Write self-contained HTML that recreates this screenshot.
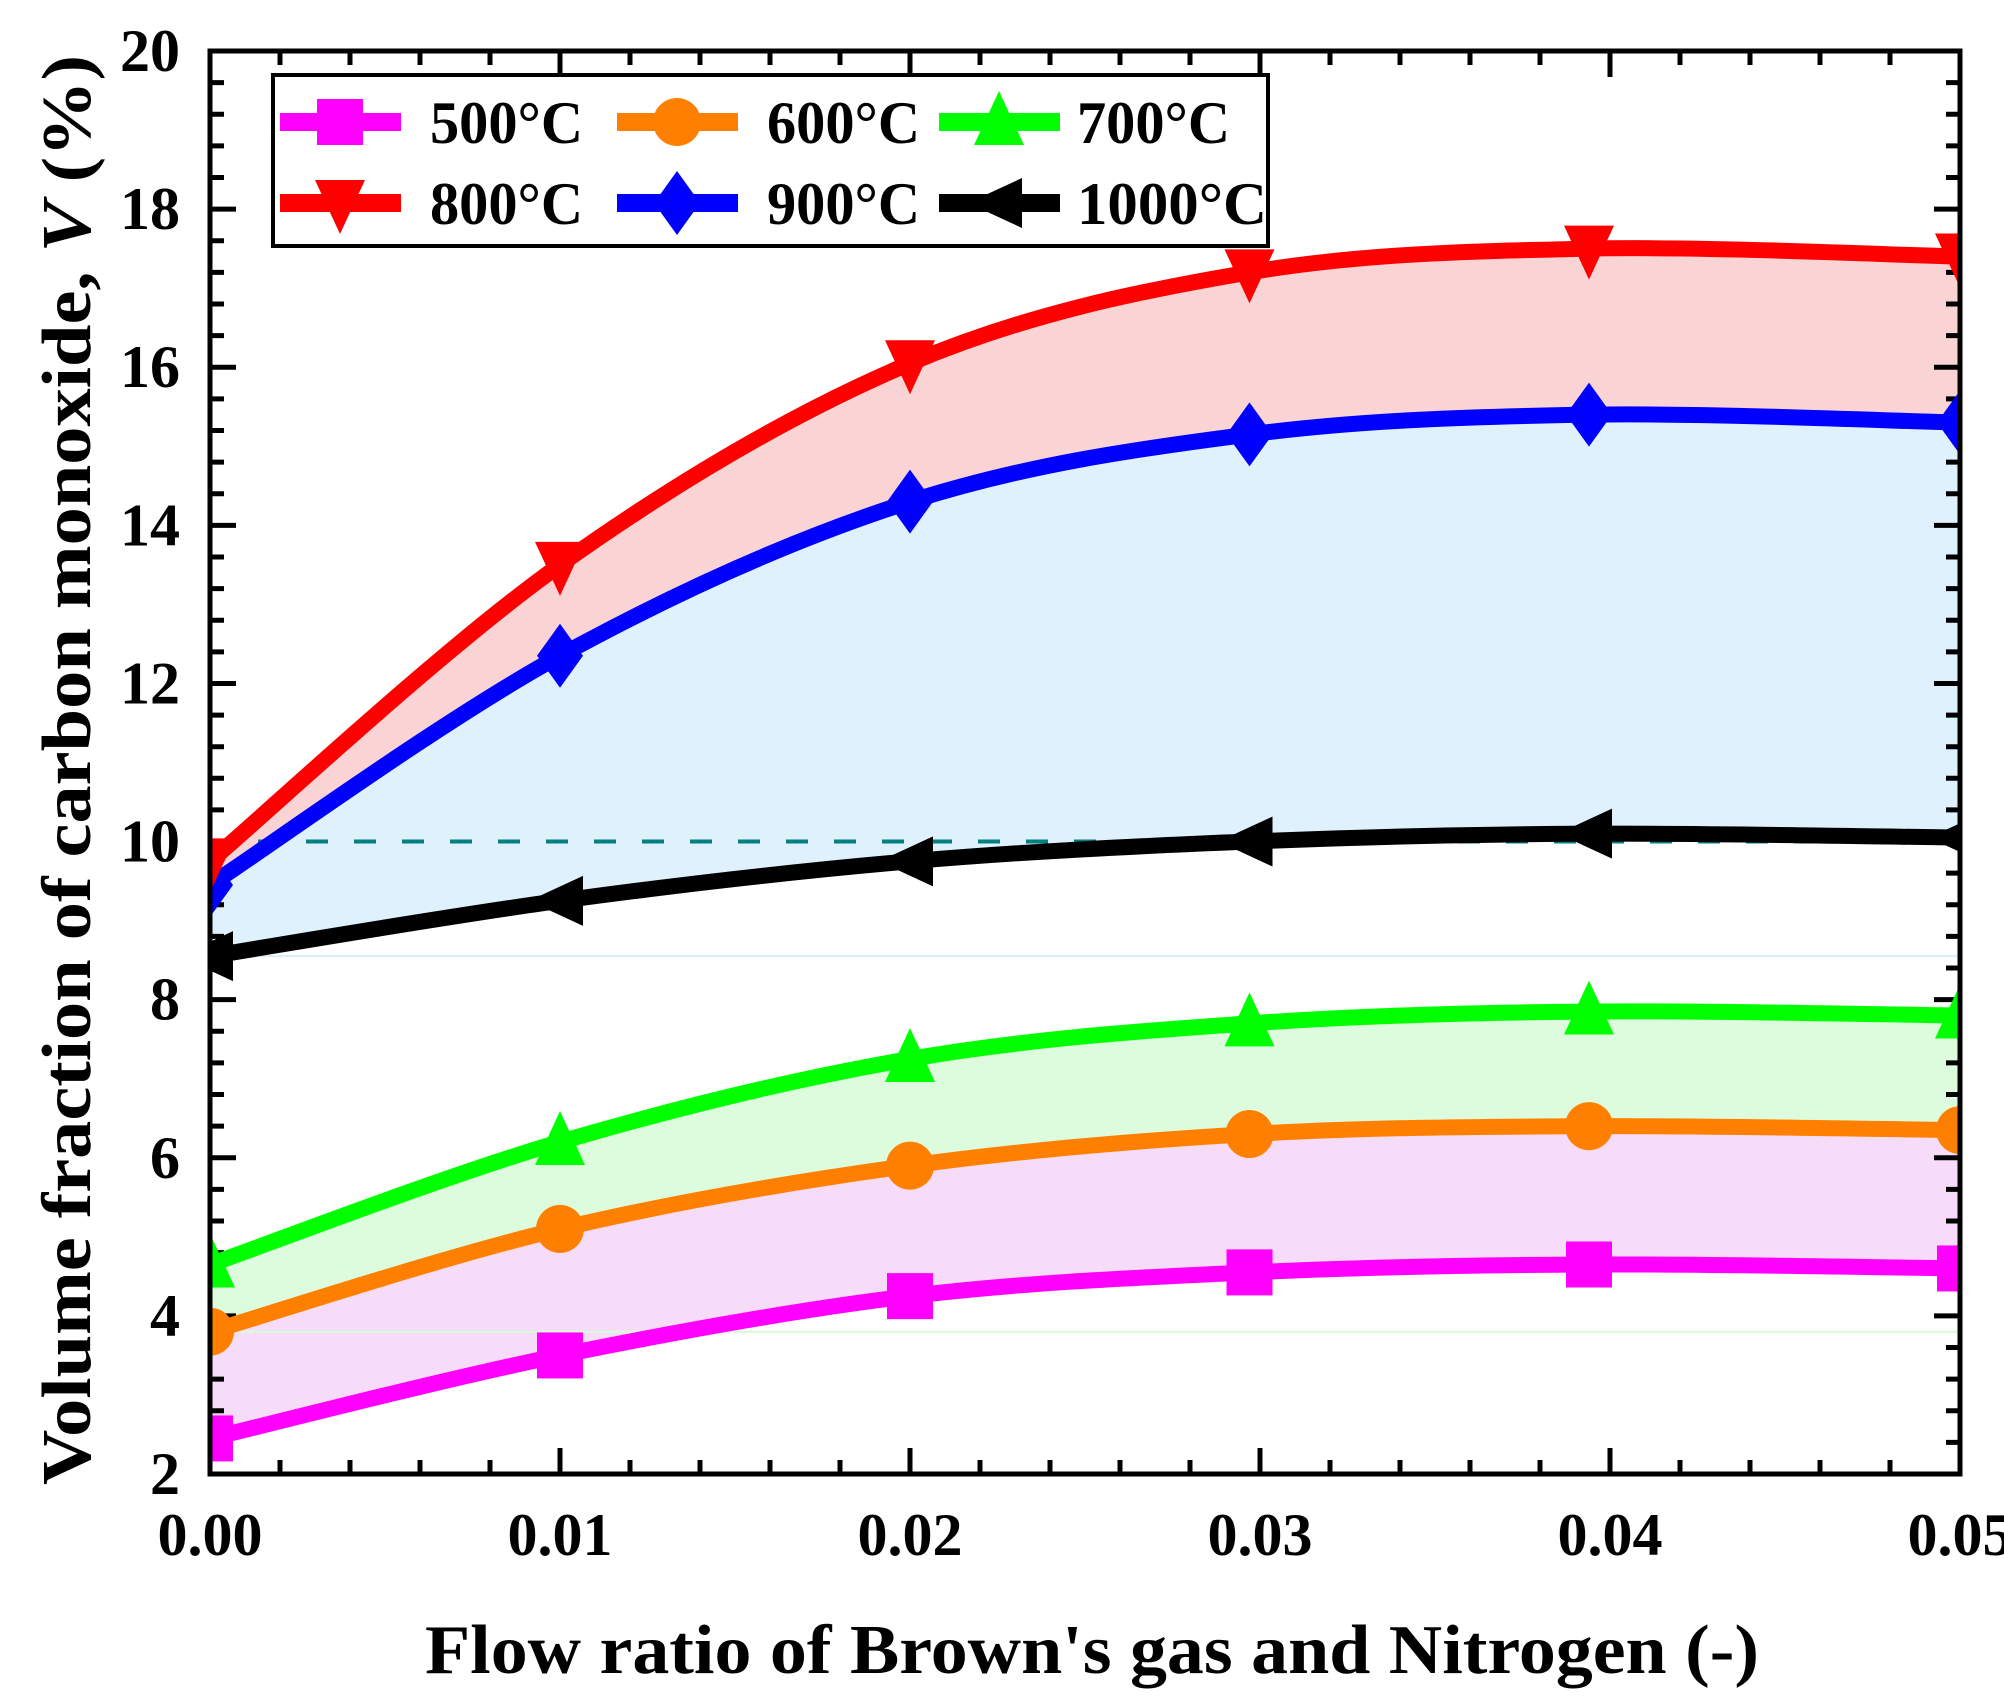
<!DOCTYPE html>
<html><head><meta charset="utf-8"><style>
html,body{margin:0;padding:0;background:#fff;}
svg{display:block;}
text{font-family:"Liberation Serif",serif;font-weight:bold;fill:#000;}
</style></head><body>
<svg id="s" width="2004" height="1702" viewBox="0 0 2004 1702" xmlns="http://www.w3.org/2000/svg"></svg>
<script>
const L=210,R=1960,T=51,B=1474;
const X=v=>L+v/0.05*(R-L), Y=v=>B-(v-2)/18*(B-T);
const xs=[0,0.01,0.02,0.0297,0.0394,0.05];
const D={
500:[2.45,3.5,4.25,4.55,4.65,4.6],
600:[3.8,5.1,5.9,6.3,6.4,6.35],
700:[4.65,6.2,7.25,7.7,7.85,7.8],
800:[9.75,13.5,16.05,17.2,17.5,17.4],
900:[9.45,12.35,14.3,15.15,15.4,15.3],
1000:[8.55,9.25,9.75,10.0,10.1,10.05]};
const C={500:'#ff00ff',600:'#ff8000',700:'#00ff00',800:'#ff0000',900:'#0000ff',1000:'#000000'};
function pts(k){return xs.map((x,i)=>[X(x),Y(D[k][i])]);}
function spline(p){let d='';for(let i=0;i<p.length-1;i++){const p0=p[Math.max(i-1,0)],p1=p[i],p2=p[i+1],p3=p[Math.min(i+2,p.length-1)];
const c1=[p1[0]+(p2[0]-p0[0])/6,p1[1]+(p2[1]-p0[1])/6],c2=[p2[0]-(p3[0]-p1[0])/6,p2[1]-(p3[1]-p1[1])/6];
d+=' C'+c1.join(',')+' '+c2.join(',')+' '+p2.join(',');}return d;}
function line(k){const p=pts(k);return 'M'+p[0].join(',')+spline(p);}
function band(a,b){const pa=pts(a),pb=pts(b).reverse();return 'M'+pa[0].join(',')+spline(pa)+' L'+pb[0].join(',')+spline(pb)+' Z';}
function marker(k,x,y){const c=C[k],s=23;
if(k==500)return `<rect x="${x-s}" y="${y-s}" width="${2*s}" height="${2*s}" fill="${c}"/>`;
if(k==600)return `<circle cx="${x}" cy="${y}" r="${s+1}" fill="${c}"/>`;
if(k==700)return `<polygon points="${x},${y-s-8} ${x+s+2},${y+s} ${x-s-2},${y+s}" fill="${c}"/>`;
if(k==800)return `<polygon points="${x-s-2},${y-s} ${x+s+2},${y-s} ${x},${y+s+8}" fill="${c}"/>`;
if(k==900)return `<polygon points="${x},${y-s-9} ${x+s},${y} ${x},${y+s+9} ${x-s},${y}" fill="${c}"/>`;
return `<polygon points="${x-s-8},${y} ${x+s},${y-s-2} ${x+s},${y+s+2}" fill="${c}"/>`;}
let h=`<defs><clipPath id="cp"><rect x="${L}" y="${T}" width="${R-L}" height="${B-T}"/></clipPath></defs><g clip-path="url(#cp)">`;
h+=`<path d="${band(800,900)}" fill="#fad4d4"/>`;
h+=`<path d="${band(900,1000)}" fill="#dff1fc"/>`;
h+=`<path d="${band(700,600)}" fill="#ddfcdd"/>`;
h+=`<path d="${band(600,500)}" fill="#f7dcfa"/>`;
h+=`<line x1="${L}" y1="${Y(8.55)}" x2="${R}" y2="${Y(8.55)}" stroke="#d8eefa" stroke-width="2"/>`;
h+=`<line x1="${L}" y1="${Y(3.8)}" x2="${R}" y2="${Y(3.8)}" stroke="#d8fad8" stroke-width="2"/>`;
let tk='';
for(let i=0;i<=25;i++){const x=X(i*0.002),len=i%5==0?26:14;tk+=`M${x},${B} v${-len} M${x},${T} v${len} `;}
for(let i=0;i<=45;i++){const y=Y(2+i*0.4),len=i%5==0?26:14;tk+=`M${L},${y} h${len} M${R},${y} h${-len} `;}
h+=`<path d="${tk}" stroke="#000" stroke-width="5" fill="none"/>`;
h+=`<line x1="${L}" y1="${Y(10)}" x2="${R}" y2="${Y(10)}" stroke="#008080" stroke-width="4" stroke-dasharray="22,26"/>`;
[500,600,700,1000,900,800].forEach(k=>{h+=`<path d="${line(k)}" stroke="${C[k]}" stroke-width="16" fill="none" stroke-linejoin="round"/>`;});
[500,600,700,1000,900,800].forEach(k=>{pts(k).forEach(p=>{h+=marker(k,p[0],p[1]);});});
h+='</g>';
h+=`<rect x="${L}" y="${T}" width="${R-L}" height="${B-T}" fill="none" stroke="#000" stroke-width="5"/>`;
for(let v=2;v<=20;v+=2)h+=`<text x="180" y="${Y(v)+20}" font-size="60" text-anchor="end">${v}</text>`;
['0.00','0.01','0.02','0.03','0.04','0.05'].forEach((t,i)=>{h+=`<text x="${X(i*0.01)}" y="1555" font-size="60" text-anchor="middle">${t}</text>`;});
h+=`<text x="1092" y="1673" font-size="70" text-anchor="middle" textLength="1334" lengthAdjust="spacingAndGlyphs">Flow ratio of Brown's gas and Nitrogen (-)</text>`;
h+=`<text transform="translate(90,770) rotate(-90)" font-size="70" text-anchor="middle" textLength="1430" lengthAdjust="spacingAndGlyphs">Volume fraction  of  carbon monoxide, <tspan font-style="italic">V</tspan> (%)</text>`;
h+=`<rect x="273" y="75" width="995" height="171" fill="#fff" stroke="#000" stroke-width="4"/>`;
const lg=[[500,280,122,430],[600,617,122,767],[700,939,122,1077],[800,280,203,430],[900,617,203,767],[1000,939,203,1077]];
lg.forEach(([k,x,y,tx])=>{h+=`<rect x="${x}" y="${y-9}" width="121" height="18" fill="${C[k]}"/>`+marker(k,x+60,y);
h+=`<text x="${tx}" y="${y+21}" font-size="60" textLength="${k==1000?190:153}" lengthAdjust="spacingAndGlyphs">${k}°C</text>`;});
document.getElementById('s').innerHTML=h;
</script>
</body></html>
